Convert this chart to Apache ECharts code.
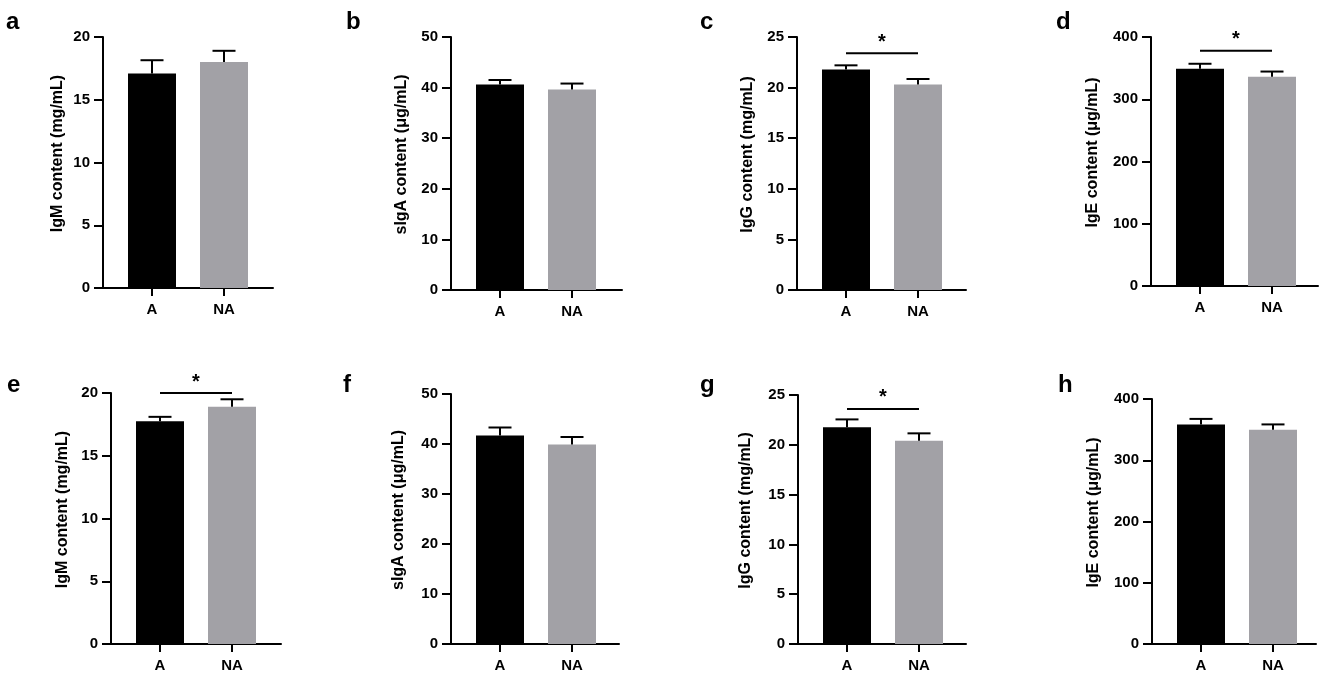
<!DOCTYPE html>
<html>
<head>
<meta charset="utf-8">
<script src="https://cdn.jsdelivr.net/npm/echarts@6.0.0/dist/echarts.min.js"></script>
<style>
  html, body { margin: 0; padding: 0; background: #fff; }
  #chart { width: 1325px; height: 679px; }
</style>
</head>
<body>
<div id="chart"></div>
<script>
// groups on the x axis
var groups = ['A', 'NA'];

// top row (a-d)
var igmMean1 = [17.1, 18.0],  igmSem1 = [1.05, 0.9];
var sigaMean1 = [40.6, 39.6], sigaSem1 = [0.9, 1.2];
var iggMean1 = [21.8, 20.3],  iggSem1 = [0.4, 0.55];
var igeMean1 = [349, 336],    igeSem1 = [8, 8.5];

// bottom row (e-h)
var igmMean2 = [17.75, 18.9], igmSem2 = [0.35, 0.6];
var sigaMean2 = [41.7, 39.9], sigaSem2 = [1.6, 1.5];
var iggMean2 = [21.75, 20.4], iggSem2 = [0.8, 0.75];
var igeMean2 = [358.5, 350],  igeSem2 = [9, 8.5];

// significance bar height per panel (null = none)
var sigLevels = [null, null, 23.4, 378, 20.0, null, 23.6, null];

var panelLetters = ['a', 'b', 'c', 'd', 'e', 'f', 'g', 'h'];
var yNames = ['IgM content (mg/mL)', 'sIgA content (μg/mL)', 'IgG content (mg/mL)', 'IgE content (μg/mL)',
              'IgM content (mg/mL)', 'sIgA content (μg/mL)', 'IgG content (mg/mL)', 'IgE content (μg/mL)'];
var yMax = [20, 50, 25, 400, 20, 50, 25, 400];
var yStep = [5, 10, 5, 100, 5, 10, 5, 100];

var means = [igmMean1, sigaMean1, iggMean1, igeMean1, igmMean2, sigaMean2, iggMean2, igeMean2];
var sems = [igmSem1, sigaSem1, iggSem1, igeSem1, igmSem2, sigaSem2, iggSem2, igeSem2];

// layout: y axis x, top, bottom (px), x axis end, name gap, letter position
var layout = [
  {ax: 103, top: 37, bot: 288, end: 273, gap: 37, lx: 1, ly: 5},
  {ax: 451, top: 37, bot: 290, end: 622, gap: 41, lx: 341, ly: 5},
  {ax: 797, top: 37, bot: 290, end: 966, gap: 41, lx: 695, ly: 5},
  {ax: 1151, top: 37, bot: 286, end: 1318, gap: 50, lx: 1051, ly: 5},
  {ax: 111, top: 393, bot: 644, end: 281, gap: 40, lx: 2, ly: 368},
  {ax: 451, top: 394, bot: 644, end: 619, gap: 44, lx: 338, ly: 368},
  {ax: 798, top: 395, bot: 644, end: 966, gap: 44, lx: 695, ly: 368},
  {ax: 1152, top: 399, bot: 644, end: 1316, gap: 50, lx: 1053, ly: 368}
];

var FONT = 'Liberation Sans, Arial, sans-serif';
var barColors = ['#000000', '#a2a1a6'];

var grids = [], xAxes = [], yAxes = [], series = [], titles = [];

layout.forEach(function (p, i) {
  var frame = i * 2, bars = i * 2 + 1;
  // frame grid: holds the axis lines and y labels
  grids.push({left: p.ax, top: p.top, width: p.end - p.ax, height: p.bot - p.top});
  // bar grid: narrower so bar centres land where they are in the figure
  grids.push({left: p.ax + 13, top: p.top, width: 144, height: p.bot - p.top});

  xAxes.push({
    type: 'value', gridIndex: frame, min: 0, max: 1,
    axisLine: {show: true, lineStyle: {color: '#000', width: 2}},
    axisTick: {show: false}, axisLabel: {show: false}, splitLine: {show: false}
  });
  xAxes.push({
    type: 'category', gridIndex: bars, data: groups,
    axisLine: {show: false},
    axisTick: {show: true, alignWithLabel: true, length: 8, lineStyle: {color: '#000', width: 2}},
    axisLabel: {color: '#000', fontFamily: FONT, fontWeight: 'bold', fontSize: 15, margin: 14}
  });

  yAxes.push({
    type: 'value', gridIndex: frame, min: 0, max: yMax[i], interval: yStep[i],
    name: yNames[i], nameLocation: 'middle', nameGap: p.gap,
    nameTextStyle: {color: '#000', fontFamily: FONT, fontWeight: 'bold', fontSize: 16, padding: [0, 0, 0, 18]},
    axisLine: {show: true, lineStyle: {color: '#000', width: 2}},
    axisTick: {show: true, length: 9, lineStyle: {color: '#000', width: 2}},
    axisLabel: {color: '#000', fontFamily: FONT, fontWeight: 'bold', fontSize: 15, margin: 13},
    splitLine: {show: false}
  });
  yAxes.push({type: 'value', gridIndex: bars, min: 0, max: yMax[i], show: false});

  series.push({
    type: 'bar', xAxisIndex: bars, yAxisIndex: bars, barWidth: 48,
    data: means[i].map(function (v, k) {
      return {value: v, itemStyle: {color: barColors[k]}};
    })
  });

  // error bars (upper whisker only)
  series.push({
    type: 'custom', xAxisIndex: bars, yAxisIndex: bars, z: 3,
    data: means[i].map(function (v, k) { return [k, v, sems[i][k]]; }),
    renderItem: function (params, api) {
      var k = api.value(0), m = api.value(1), s = api.value(2);
      var lo = api.coord([k, m]), hi = api.coord([k, m + s]);
      var st = {stroke: '#000', lineWidth: 2};
      return {type: 'group', children: [
        {type: 'line', shape: {x1: lo[0], y1: lo[1], x2: hi[0], y2: hi[1]}, style: st},
        {type: 'line', shape: {x1: hi[0] - 11.5, y1: hi[1], x2: hi[0] + 11.5, y2: hi[1]}, style: st}
      ]};
    }
  });

  if (sigLevels[i] !== null) {
    series.push({
      type: 'custom', xAxisIndex: bars, yAxisIndex: bars, z: 3, clip: false,
      data: [[0, 1, sigLevels[i]]],
      renderItem: function (params, api) {
        var h = api.value(2);
        var p0 = api.coord([api.value(0), h]), p1 = api.coord([api.value(1), h]);
        return {type: 'group', children: [
          {type: 'line', shape: {x1: p0[0], y1: p0[1], x2: p1[0], y2: p1[1]},
           style: {stroke: '#000', lineWidth: 2}},
          {type: 'text', x: (p0[0] + p1[0]) / 2, y: p0[1] - 1,
           style: {text: '*', fill: '#000', font: 'bold 20px ' + FONT, align: 'center', verticalAlign: 'bottom'}}
        ]};
      }
    });
  }

  titles.push({
    text: panelLetters[i], left: p.lx, top: p.ly,
    textStyle: {color: '#000', fontFamily: FONT, fontWeight: 'bold', fontSize: 24}
  });
});

var myChart = echarts.init(document.getElementById('chart'), null, {renderer: 'canvas'});
myChart.setOption({
  animation: false,
  backgroundColor: '#fff',
  title: titles,
  grid: grids,
  xAxis: xAxes,
  yAxis: yAxes,
  series: series
});
</script>
</body>
</html>
